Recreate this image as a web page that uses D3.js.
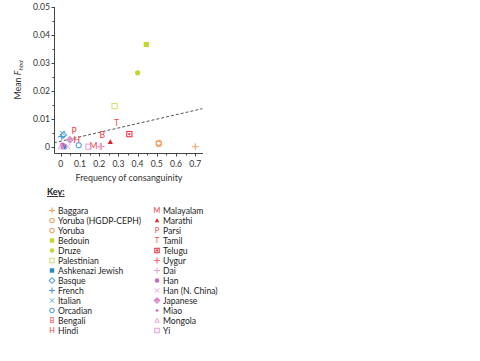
<!DOCTYPE html>
<html><head><meta charset="utf-8">
<script src="https://cdn.jsdelivr.net/npm/d3@7"></script>
<style>body{margin:0;background:#fff}svg{display:block}text{font-family:Lato,"Open Sans",sans-serif}</style>
</head><body><svg id="c" width="480" height="361"></svg>
<script>
const populations = ["Baggara","Yoruba (HGDP-CEPH)","Yoruba","Bedouin","Druze","Palestinian","Ashkenazi Jewish","Basque","French","Italian","Orcadian","Bengali","Hindi","Malayalam","Marathi","Parsi","Tamil","Telugu","Uygur","Dai","Han","Han (N. China)","Japanese","Miao","Mongola","Yi"];
const consanguinity = [0.70,0.51,0.51,0.445,0.40,0.28,0.017,0.014,0.005,0.01,0.094,0.216,0.083,0.17,0.258,0.07,0.29,0.357,0.21,0.205,0.01,0.036,0.048,0.012,0.002,0.144];
const meanFhbd = [0.0001,0.0015,0.0011,0.0366,0.0265,0.0146,0.0001,0.0043,0.0037,0.0049,0.0006,0.0043,0.0026,0.0005,0.0018,0.0059,0.0087,0.0046,0.0002,0.0001,0.0007,0.0001,0.0026,0.0003,0.0001,0.0001];
const xTicks = [0,0.1,0.2,0.3,0.4,0.5,0.6,0.7];
const yTicks = [0,0.01,0.02,0.03,0.04,0.05];
const fitLine = [[-0.035,0.0015],[0.737,0.0137]];

// marker styles keyed by population
const style = {
 "Baggara":["plus","#f3a266"],"Yoruba (HGDP-CEPH)":["ocircle","#f3a266"],"Yoruba":["ocircle","#f3a266"],
 "Bedouin":["fsquare","#c5d52b"],"Druze":["fcircle","#c5d52b"],"Palestinian":["osquare","#d6e07a"],
 "Ashkenazi Jewish":["fsquare","#2f86d0"],"Basque":["odiamond","#5aa6e0"],"French":["plus","#4c9ede"],
 "Italian":["cross","#5aa6e0"],"Orcadian":["ocircle","#5aa6e0"],
 "Bengali":["B","#ee3a45"],"Hindi":["H","#ee3a45"],"Malayalam":["M","#ee3a45"],"Marathi":["ftri","#e2202c"],
 "Parsi":["P","#ee3a45"],"Tamil":["T","#ee4a55"],"Telugu":["dsquare","#ee3a45"],"Uygur":["plus","#ef6470"],
 "Dai":["plus","#e6a6d8"],"Han":["fcircle","#cc66b4"],"Han (N. China)":["cross","#e8a0d4"],"Japanese":["xdiamond","#dc88c8"],
 "Miao":["dot","#cc66b4"],"Mongola":["otri","#e8a6d8"],"Yi":["osquare","#e8a6d8"]
};

const svg = d3.select("#c");
const x = d3.scaleLinear().domain([0,0.7]).range([60.7,195.3]);
const y = d3.scaleLinear().domain([0,0.05]).range([147,7]);
const axisColor = "#444";

function marker(g, type, col, s){
  s = s||1;
  const r = 2.6*s;
  if(type==="plus"){
    g.append("path").attr("d",`M${-r-0.8},0H${r+0.8}M0,${-r-0.8}V${r+0.8}`).attr("stroke",col).attr("stroke-width",1.1).attr("fill","none");
  } else if(type==="cross"){
    g.append("path").attr("d",`M${-r},${-r}L${r},${r}M${-r},${r}L${r},${-r}`).attr("stroke",col).attr("stroke-width",1).attr("fill","none");
  } else if(type==="ocircle"){
    g.append("circle").attr("r",r).attr("fill","none").attr("stroke",col).attr("stroke-width",1.1);
  } else if(type==="fcircle"){
    g.append("circle").attr("r",r).attr("fill",col);
  } else if(type==="dot"){
    g.append("circle").attr("r",r*0.6).attr("fill",col);
  } else if(type==="fsquare"){
    g.append("rect").attr("x",-r).attr("y",-r).attr("width",2*r).attr("height",2*r).attr("fill",col);
  } else if(type==="osquare"){
    g.append("rect").attr("x",-r).attr("y",-r).attr("width",2*r).attr("height",2*r).attr("fill","none").attr("stroke",col).attr("stroke-width",1.1);
  } else if(type==="dsquare"){
    g.append("rect").attr("x",-r).attr("y",-r).attr("width",2*r).attr("height",2*r).attr("fill","none").attr("stroke",col).attr("stroke-width",1.1);
    g.append("rect").attr("x",-1).attr("y",-1).attr("width",2).attr("height",2).attr("fill",col);
  } else if(type==="odiamond"){
    g.append("path").attr("d",`M0,${-r-0.6}L${r+0.6},0L0,${r+0.6}L${-r-0.6},0Z`).attr("fill","none").attr("stroke",col).attr("stroke-width",1.1);
  } else if(type==="xdiamond"){
    g.append("path").attr("d",`M0,${-r-0.6}L${r+0.6},0L0,${r+0.6}L${-r-0.6},0ZM0,${-r-0.6}V${r+0.6}M${-r-0.6},0H${r+0.6}`).attr("fill","none").attr("stroke",col).attr("stroke-width",1.1);
  } else if(type==="ftri"){
    g.append("path").attr("d",`M0,${-r}L${r},${r*0.8}L${-r},${r*0.8}Z`).attr("fill",col);
  } else if(type==="otri"){
    g.append("path").attr("d",`M0,${-r}L${r},${r*0.8}L${-r},${r*0.8}Z`).attr("fill","none").attr("stroke",col).attr("stroke-width",1);
  } else {
    g.append("text").text(type).attr("text-anchor","middle").attr("dy","0.36em").attr("fill",col)
      .attr("font-size",8.6*s).attr("font-weight",400);
  }
}

// axes
const ax = svg.append("g").attr("stroke",axisColor).attr("stroke-width",1).attr("fill","none");
ax.append("line").attr("x1",54.5).attr("x2",54.5).attr("y1",y(0.05)).attr("y2",153.5);
ax.append("line").attr("x1",54.5).attr("x2",203).attr("y1",153.5).attr("y2",153.5);
d3.range(0,0.0501,0.005).forEach(v=>{
  const major = Math.abs(v*100 - Math.round(v*100))<1e-6;
  ax.append("line").attr("x1",54.5-(major?3:2)).attr("x2",54.5).attr("y1",Math.round(y(v))+0.5).attr("y2",Math.round(y(v))+0.5);
});
d3.range(0,0.7001,0.05).forEach(v=>{
  const major = Math.abs(v*10 - Math.round(v*10))<1e-6;
  ax.append("line").attr("x1",Math.round(x(v))+0.5).attr("x2",Math.round(x(v))+0.5).attr("y1",153.5).attr("y2",153.5+(major?3:2));
});
svg.append("g").selectAll("text").data(yTicks).join("text")
  .attr("x",50).attr("y",d=>y(d)).attr("dy","0.35em").attr("text-anchor","end")
  .attr("font-size",8.6).attr("fill","#333").text(d=>d===0?"0":d3.format(".2f")(d));
svg.append("g").selectAll("text").data(xTicks).join("text")
  .attr("x",d=>x(d)).attr("y",167).attr("text-anchor","middle")
  .attr("font-size",8.6).attr("fill","#333").text(d=>d===0?"0":d3.format(".1f")(d));

svg.append("text").attr("x",129).attr("y",181).attr("text-anchor","middle").attr("font-size",8.9).attr("fill","#333").text("Frequency of consanguinity");
const yl = svg.append("text").attr("transform","translate(21,80) rotate(-90)").attr("text-anchor","middle").attr("font-size",8.9).attr("fill","#333");
yl.append("tspan").text("Mean ");
yl.append("tspan").attr("font-style","italic").text("F");
yl.append("tspan").attr("font-style","italic").attr("font-size",6.3).attr("dy",2).text("hbd");

// fit line
svg.append("line").attr("x1",x(fitLine[0][0])).attr("y1",y(fitLine[0][1])).attr("x2",x(fitLine[1][0])).attr("y2",y(fitLine[1][1]))
  .attr("stroke","#555").attr("stroke-width",1).attr("stroke-dasharray","3,2");

// points
populations.forEach((p,i)=>{
  const [t,c] = style[p];
  const g = svg.append("g").attr("transform",`translate(${x(consanguinity[i])},${y(meanFhbd[i])})`);
  marker(g,t,c,1);
});

// legend
svg.append("text").attr("x",47).attr("y",195).attr("font-size",9).attr("font-weight",700).attr("fill","#222")
  .attr("text-decoration","underline").text("Key:");
populations.forEach((p,i)=>{
  const col = i<13?0:1, row = i<13?i:i-13;
  const mx = col===0?52:157, ty = 210.5+row*10;
  const [t,c] = style[p];
  const g = svg.append("g").attr("transform",`translate(${mx},${ty})`);
  marker(g,t,c,0.85);
  svg.append("text").attr("x",mx+6).attr("y",ty).attr("dy","0.36em").attr("font-size",8.6).attr("fill","#222").text(p);
});
</script></body></html>
